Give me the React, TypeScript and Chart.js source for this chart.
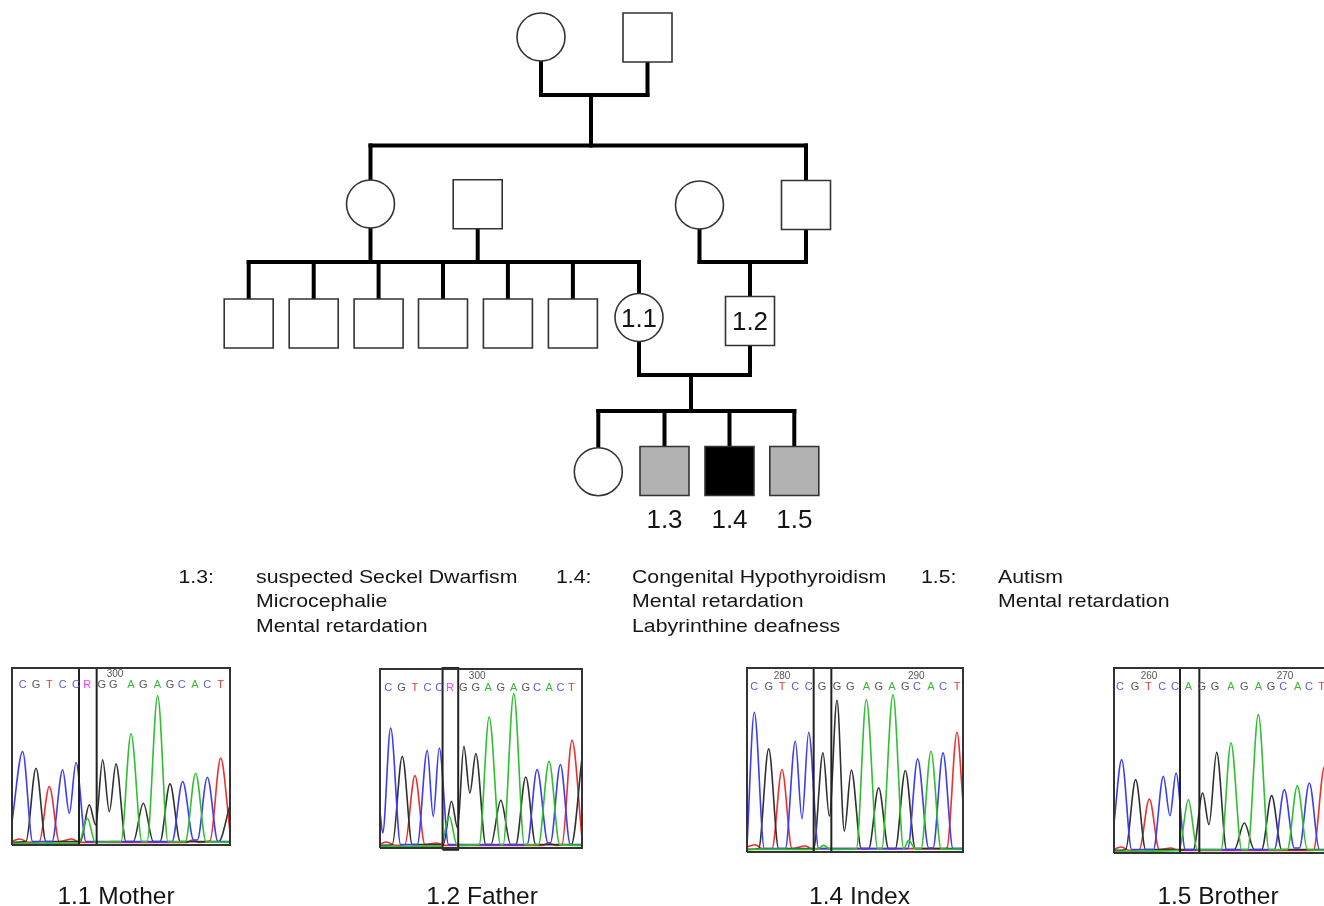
import React, { useEffect, useRef } from "react";
import { Chart, registerables } from "chart.js";

Chart.register(...registerables);

type Pt = [number, number];

// ================= PEDIGREE DATA =================
// individuals (layout units = page pixels of the original figure)
const PERSON_X = [541, 647.5, 370.5, 477.7, 699.5, 806, 248.7, 313.7, 378.6, 443, 507.9, 572.9, 639, 750, 598.3, 664.5, 729.5, 794.3];
const PERSON_Y = [37, 37.5, 204, 204.3, 205, 205, 323.5, 323.5, 323.5, 323.5, 323.5, 323.5, 317.5, 321, 471.7, 471, 471, 471];
const PERSON_SEX = ["F", "M", "F", "M", "F", "M", "M", "M", "M", "M", "M", "M", "F", "M", "F", "M", "M", "M"];
// 0 = unaffected, 1 = partly affected (grey), 2 = index (black)
const PERSON_STATUS = [0, 0, 0, 0, 0, 0, 0, 0, 0, 0, 0, 0, 0, 0, 0, 1, 2, 1];
const INSIDE_LABEL = ["", "", "", "", "", "", "", "", "", "", "", "", "1.1", "1.2", "", "", "", ""];
const BELOW_LABEL = ["", "", "", "", "", "", "", "", "", "", "", "", "", "", "", "1.3", "1.4", "1.5"];

// couples and their children
const COUPLE_A = [0, 2, 4, 12];
const COUPLE_B = [1, 3, 5, 13];
const COUPLE_MATE_Y = [95, 262, 262, 375];
const COUPLE_SIB_Y = [145.5, 262, 262, 411];
const COUPLE_DROP_X = [591, 424, 750, 691];
const COUPLE_CHILDREN = [[2, 5], [6, 7, 8, 9, 10, 11, 12], [13], [14, 15, 16, 17]];

// clinical descriptions
const DESC_IDS = ["1.3:", "1.4:", "1.5:"];
const DESC_LINES = [
  ["suspected Seckel Dwarfism", "Microcephalie", "Mental retardation"],
  ["Congenital Hypothyroidism", "Mental retardation", "Labyrinthine deafness"],
  ["Autism", "Mental retardation"],
];

const PANEL_LABELS = ["1.1 Mother", "1.2 Father", "1.4 Index", "1.5 Brother"];

// ================= CHROMATOGRAM DATA =================
// x: trace position, y: signal height (units of 1/3 px)
const MOTHER_A: Pt[] = [[0, 5], [200, 5], [226, 80], [250, 8], [300, 10], [327, 10], [357, 333], [390, 10], [405, 10], [437, 447], [468, 10], [520, 10], [551, 215], [582, 10], [654, 8]];
const MOTHER_C: Pt[] = [[0, 70], [32, 280], [62, 10], [120, 10], [152, 225], [172, 95], [192, 247], [222, 10], [480, 10], [512, 190], [545, 15], [556, 15], [586, 203], [618, 10], [654, 10]];
const MOTHER_G: Pt[] = [[0, 8], [42, 10], [72, 230], [102, 10], [205, 10], [232, 120], [251, 60], [272, 255], [292, 100], [312, 243], [342, 10], [364, 10], [394, 125], [424, 10], [444, 10], [474, 183], [505, 10], [620, 10], [654, 120]];
const MOTHER_T: Pt[] = [[0, 12], [24, 18], [49, 8], [82, 10], [112, 175], [142, 10], [179, 18], [204, 8], [524, 8], [542, 15], [559, 8], [594, 12], [626, 260], [654, 40]];
const MOTHER_BASES = ["C", "G", "T", "C", "C", "R", "G", "G", "A", "G", "A", "G", "C", "A", "C", "T"];
const MOTHER_BASE_X = [32, 72, 112, 152, 192, 226, 269, 304, 357, 394, 436, 474, 509, 549, 586, 626];
const MOTHER_POS = ["300"];
const MOTHER_POS_X = [309];
const MOTHER_HL_X = [201, 254];
const MOTHER_HL_Y = [0, 530];
const MOTHER_RANGE = [654, 530];

const FATHER_A: Pt[] = [[0, 5], [182, 5], [208, 95], [232, 8], [298, 10], [328, 393], [362, 10], [370, 10], [402, 463], [434, 10], [476, 10], [508, 260], [540, 10], [607, 8]];
const FATHER_C: Pt[] = [[0, 110], [8, 45], [32, 360], [62, 10], [112, 10], [142, 293], [160, 95], [178, 300], [206, 10], [442, 10], [472, 235], [505, 15], [512, 15], [542, 250], [572, 10], [607, 10]];
const FATHER_G: Pt[] = [[0, 8], [37, 10], [67, 275], [97, 10], [190, 10], [215, 140], [233, 60], [252, 305], [270, 165], [288, 283], [318, 10], [333, 10], [363, 143], [393, 10], [408, 10], [438, 213], [468, 10], [575, 10], [607, 270]];
const FATHER_T: Pt[] = [[0, 12], [20, 18], [45, 8], [75, 10], [105, 217], [135, 10], [170, 15], [195, 8], [490, 8], [505, 15], [530, 8], [547, 10], [577, 323], [607, 30]];
const FATHER_BASES = ["C", "G", "T", "C", "C", "R", "G", "G", "A", "G", "A", "G", "C", "A", "C", "T"];
const FATHER_BASE_X = [25, 65, 105, 143, 178, 210, 250, 288, 325, 363, 402, 438, 472, 508, 542, 575];
const FATHER_POS = ["300"];
const FATHER_POS_X = [292];
const FATHER_HL_X = [188, 235];
const FATHER_HL_Y = [-5, 540];
const FATHER_RANGE = [607, 537];

const INDEX_A: Pt[] = [[0, 8], [210, 8], [230, 20], [250, 8], [328, 10], [358, 458], [392, 10], [404, 10], [438, 473], [470, 10], [485, 35], [505, 10], [522, 10], [552, 303], [582, 10], [648, 8]];
const INDEX_C: Pt[] = [[0, 20], [22, 420], [52, 10], [115, 10], [145, 333], [165, 100], [185, 360], [215, 10], [482, 10], [512, 280], [545, 12], [558, 12], [588, 298], [618, 10], [648, 10]];
const INDEX_G: Pt[] = [[0, 8], [35, 10], [65, 310], [95, 10], [200, 10], [228, 298], [247, 108], [270, 456], [292, 63], [313, 246], [343, 10], [365, 10], [395, 193], [425, 10], [445, 10], [475, 245], [505, 10], [648, 10]];
const INDEX_T: Pt[] = [[0, 15], [25, 22], [45, 10], [75, 10], [105, 248], [135, 10], [175, 18], [195, 10], [590, 10], [600, 12], [630, 360], [648, 150]];
const INDEX_BASES = ["C", "G", "T", "C", "C", "G", "G", "G", "A", "G", "A", "G", "C", "A", "C", "T"];
const INDEX_BASE_X = [22, 65, 105, 145, 185, 225, 270, 310, 358, 395, 435, 475, 510, 552, 588, 630];
const INDEX_POS = ["280", "290"];
const INDEX_POS_X = [105, 508];
const INDEX_HL_X = [200, 253];
const INDEX_HL_Y = [0, 553];
const INDEX_RANGE = [648, 553];

const BROTHER_A: Pt[] = [[0, 5], [195, 8], [223, 160], [250, 10], [321, 10], [351, 330], [383, 10], [401, 10], [433, 415], [465, 10], [520, 10], [550, 202], [580, 10], [648, 8]];
const BROTHER_C: Pt[] = [[0, 90], [23, 280], [53, 10], [118, 10], [148, 230], [168, 112], [186, 240], [214, 10], [481, 10], [511, 190], [541, 15], [556, 15], [586, 210], [616, 10], [648, 8]];
const BROTHER_G: Pt[] = [[0, 8], [35, 10], [65, 220], [95, 10], [238, 10], [266, 180], [285, 85], [308, 302], [338, 10], [361, 10], [391, 90], [421, 10], [443, 10], [473, 172], [503, 10], [648, 10]];
const BROTHER_T: Pt[] = [[0, 12], [23, 18], [45, 8], [76, 10], [106, 162], [136, 10], [171, 15], [193, 8], [598, 8], [632, 260], [648, 150]];
const BROTHER_BASES = ["C", "G", "T", "C", "C", "A", "G", "G", "A", "G", "A", "G", "C", "A", "C", "T"];
const BROTHER_BASE_X = [18, 63, 103, 145, 183, 223, 263, 303, 351, 391, 433, 471, 508, 551, 585, 623];
const BROTHER_POS = ["260", "270"];
const BROTHER_POS_X = [105, 513];
const BROTHER_HL_X = [198, 256];
const BROTHER_HL_Y = [0, 555];
const BROTHER_RANGE = [648, 555];

// ================= STYLE / LAYOUT =================
const FONT = '"Liberation Sans", Arial, Helvetica, sans-serif';
const TEXT = "#151515";
const CIRCLE_R = 24;
const SQUARE_HALF = 24.5;
const STATUS_FILL = ["#ffffff", "#b2b2b2", "#000000"];
const SYMBOL_BORDER = "#333333";
const LINE_W = 4;

const DESC_ID_X = [178.5, 556, 921];
const DESC_TEXT_X = [256, 632, 998];
const DESC_Y0 = 582.5;
const DESC_DY = 24.5;
const PANEL_LABEL_X = [116, 482, 859.5, 1218];
const PANEL_LABEL_Y = 904;

const UNITS_PER_PX = 3;
const PAD = 4;
const PANEL_LEFT = [12, 380, 746.7, 1114];
const PANEL_TOP = [668.3, 669.3, 668.3, 668.3];
const PANEL_LETTER_H = [482, 483, 498, 500];
const PANEL_NUM_H = [515, 518, 531, 533];

const TRACE_COLORS: Record<string, string> = { A: "#2fbf2f", C: "#3c3cf0", G: "#303030", T: "#ec3030" };
const BASE_COLORS: Record<string, string> = { A: "#38b838", C: "#5a5ae2", G: "#555555", T: "#e03c3c", R: "#ff3cff" };

const PANELS = [
  { A: MOTHER_A, C: MOTHER_C, G: MOTHER_G, T: MOTHER_T, bases: MOTHER_BASES, baseX: MOTHER_BASE_X, pos: MOTHER_POS, posX: MOTHER_POS_X, hlX: MOTHER_HL_X, hlY: MOTHER_HL_Y, range: MOTHER_RANGE },
  { A: FATHER_A, C: FATHER_C, G: FATHER_G, T: FATHER_T, bases: FATHER_BASES, baseX: FATHER_BASE_X, pos: FATHER_POS, posX: FATHER_POS_X, hlX: FATHER_HL_X, hlY: FATHER_HL_Y, range: FATHER_RANGE },
  { A: INDEX_A, C: INDEX_C, G: INDEX_G, T: INDEX_T, bases: INDEX_BASES, baseX: INDEX_BASE_X, pos: INDEX_POS, posX: INDEX_POS_X, hlX: INDEX_HL_X, hlY: INDEX_HL_Y, range: INDEX_RANGE },
  { A: BROTHER_A, C: BROTHER_C, G: BROTHER_G, T: BROTHER_T, bases: BROTHER_BASES, baseX: BROTHER_BASE_X, pos: BROTHER_POS, posX: BROTHER_POS_X, hlX: BROTHER_HL_X, hlY: BROTHER_HL_Y, range: BROTHER_RANGE },
];

function drawText(ctx: any, text: string, x: number, y: number, font: string, color: string, align: string, sx = 1) {
  ctx.save();
  ctx.font = font;
  ctx.fillStyle = color;
  ctx.textAlign = align;
  ctx.textBaseline = "alphabetic";
  ctx.translate(x, y);
  ctx.scale(sx, 1);
  ctx.fillText(text, 0, 0);
  ctx.restore();
}

function buildSegments(): Pt[][] {
  const segs: Pt[][] = [];
  for (let c = 0; c < COUPLE_A.length; c++) {
    const a = COUPLE_A[c];
    const b = COUPLE_B[c];
    const my = COUPLE_MATE_Y[c];
    const sy = COUPLE_SIB_Y[c];
    const dx = COUPLE_DROP_X[c];
    segs.push([[PERSON_X[a], PERSON_Y[a]], [PERSON_X[a], my]]);
    segs.push([[PERSON_X[b], PERSON_Y[b]], [PERSON_X[b], my]]);
    segs.push([[PERSON_X[a], my], [PERSON_X[b], my]]);
    if (sy > my) segs.push([[dx, my], [dx, sy]]);
    const kids = COUPLE_CHILDREN[c];
    const xs = kids.map((k) => PERSON_X[k]).concat([dx]);
    const lo = Math.min(...xs);
    const hi = Math.max(...xs);
    if (hi > lo) segs.push([[lo, sy], [hi, sy]]);
    kids.forEach((k) => segs.push([[PERSON_X[k], sy], [PERSON_X[k], PERSON_Y[k]]]));
  }
  return segs;
}

const pedigreeTextPlugin = {
  id: "pedigreeText",
  afterDatasetsDraw(chart: any) {
    const { ctx } = chart;
    const xs = chart.scales.x;
    const ys = chart.scales.y;
    PERSON_X.forEach((px, i) => {
      const cx = xs.getPixelForValue(px);
      const cy = ys.getPixelForValue(PERSON_Y[i]);
      if (INSIDE_LABEL[i]) drawText(ctx, INSIDE_LABEL[i], cx, cy + 9.3, `26px ${FONT}`, TEXT, "center");
      if (BELOW_LABEL[i]) drawText(ctx, BELOW_LABEL[i], cx, cy + 57, `26px ${FONT}`, TEXT, "center");
    });
    DESC_IDS.forEach((id, k) => {
      drawText(ctx, id, xs.getPixelForValue(DESC_ID_X[k]), ys.getPixelForValue(DESC_Y0), `19px ${FONT}`, TEXT, "left", 1.12);
      DESC_LINES[k].forEach((line, j) => {
        drawText(ctx, line, xs.getPixelForValue(DESC_TEXT_X[k]), ys.getPixelForValue(DESC_Y0 + j * DESC_DY), `19px ${FONT}`, TEXT, "left", 1.12);
      });
    });
    PANEL_LABELS.forEach((lab, k) => {
      drawText(ctx, lab, xs.getPixelForValue(PANEL_LABEL_X[k]), ys.getPixelForValue(PANEL_LABEL_Y), `24.5px ${FONT}`, TEXT, "center");
    });
  },
};

function pedigreeConfig(): any {
  const segs = buildSegments();
  const lineSets = segs.map((s) => ({
    data: s.map(([x, y]) => ({ x, y })),
    showLine: true,
    borderColor: "#000000",
    borderWidth: LINE_W,
    borderCapStyle: "square",
    pointRadius: 0,
    clip: false,
    order: 1,
  }));
  const females = PERSON_SEX.map((s, i) => (s === "F" ? i : -1)).filter((i) => i >= 0);
  const males = PERSON_SEX.map((s, i) => (s === "M" ? i : -1)).filter((i) => i >= 0);
  const symbolSet = (idx: number[], style: string, radius: number) => ({
    data: idx.map((i) => ({ x: PERSON_X[i], y: PERSON_Y[i] })),
    showLine: false,
    pointStyle: style,
    pointRadius: radius,
    pointHoverRadius: radius,
    pointBackgroundColor: idx.map((i) => STATUS_FILL[PERSON_STATUS[i]]),
    pointBorderColor: SYMBOL_BORDER,
    pointBorderWidth: 1.6,
    clip: false,
    order: 0,
  });
  return {
    type: "scatter",
    data: {
      datasets: [
        ...lineSets,
        symbolSet(females, "circle", CIRCLE_R),
        symbolSet(males, "rect", SQUARE_HALF / Math.SQRT1_2),
      ],
    },
    options: {
      responsive: false,
      animation: false,
      events: [],
      layout: { padding: 0, autoPadding: false },
      plugins: { legend: { display: false }, tooltip: { enabled: false } },
      scales: {
        x: { type: "linear", min: 0, max: 1324, display: false },
        y: { type: "linear", min: 0, max: 906, reverse: true, display: false },
      },
    },
    plugins: [pedigreeTextPlugin],
  };
}

function panelConfig(p: any, k: number): any {
  const [W, H] = p.range;
  const traces = ["A", "C", "G", "T"].map((b) => ({
    data: (p[b] as Pt[]).map(([x, y]) => ({ x, y })),
    showLine: true,
    borderColor: TRACE_COLORS[b],
    borderWidth: 1.6,
    cubicInterpolationMode: "monotone",
    pointRadius: 0,
    order: 1,
  }));
  const rectSet = (x0: number, x1: number, y0: number, y1: number, w: number, color: string) => ({
    data: [
      { x: x0, y: y0 },
      { x: x0, y: y1 },
      { x: x1, y: y1 },
      { x: x1, y: y0 },
      { x: x0, y: y0 },
    ],
    showLine: true,
    borderColor: color,
    borderWidth: w,
    borderJoinStyle: "miter",
    pointRadius: 0,
    clip: false,
    order: 0,
  });
  const textPlugin = {
    id: "chromaText" + k,
    afterDatasetsDraw(chart: any) {
      const { ctx } = chart;
      const xs = chart.scales.x;
      const ys = chart.scales.y;
      p.bases.forEach((b: string, i: number) => {
        drawText(ctx, b, xs.getPixelForValue(p.baseX[i]), ys.getPixelForValue(PANEL_LETTER_H[k]) + 4, `11px ${FONT}`, BASE_COLORS[b], "center");
      });
      p.pos.forEach((t: string, i: number) => {
        drawText(ctx, t, xs.getPixelForValue(p.posX[i]), ys.getPixelForValue(PANEL_NUM_H[k]) + 3.5, `10px ${FONT}`, "#555555", "center");
      });
    },
  };
  return {
    type: "scatter",
    data: {
      datasets: [
        rectSet(0, W, 0, H, 2, "#333333"),
        rectSet(p.hlX[0], p.hlX[1], p.hlY[0], p.hlY[1], 2, "#222222"),
        ...traces,
      ],
    },
    options: {
      responsive: false,
      animation: false,
      events: [],
      layout: { padding: PAD, autoPadding: false },
      plugins: { legend: { display: false }, tooltip: { enabled: false } },
      scales: {
        x: { type: "linear", min: 0, max: W, display: false },
        y: { type: "linear", min: 0, max: H, display: false },
      },
    },
    plugins: [textPlugin],
  };
}

function panelBox(k: number) {
  const [W, H] = PANELS[k].range;
  return {
    left: Math.round(PANEL_LEFT[k] - PAD),
    top: Math.round(PANEL_TOP[k] - PAD),
    width: Math.round(W / UNITS_PER_PX) + 2 * PAD,
    height: Math.round(H / UNITS_PER_PX) + 2 * PAD,
  };
}

export default function App() {
  const mainRef = useRef<HTMLCanvasElement | null>(null);
  const panelRefs = useRef<(HTMLCanvasElement | null)[]>([]);

  useEffect(() => {
    const charts: Chart[] = [];
    if (mainRef.current) charts.push(new Chart(mainRef.current, pedigreeConfig()));
    PANELS.forEach((p, k) => {
      const cv = panelRefs.current[k];
      if (cv) charts.push(new Chart(cv, panelConfig(p, k)));
    });
    return () => charts.forEach((c) => c.destroy());
  }, []);

  return (
    <div style={{ position: "absolute", left: 0, top: 0, width: 1324, height: 906, overflow: "hidden", background: "#ffffff" }}>
      <canvas ref={mainRef} width={1324} height={906} style={{ position: "absolute", left: 0, top: 0 }} />
      {PANELS.map((_, k) => {
        const b = panelBox(k);
        return (
          <canvas
            key={k}
            ref={(el) => {
              panelRefs.current[k] = el;
            }}
            width={b.width}
            height={b.height}
            style={{ position: "absolute", left: b.left, top: b.top, width: b.width, height: b.height }}
          />
        );
      })}
    </div>
  );
}
